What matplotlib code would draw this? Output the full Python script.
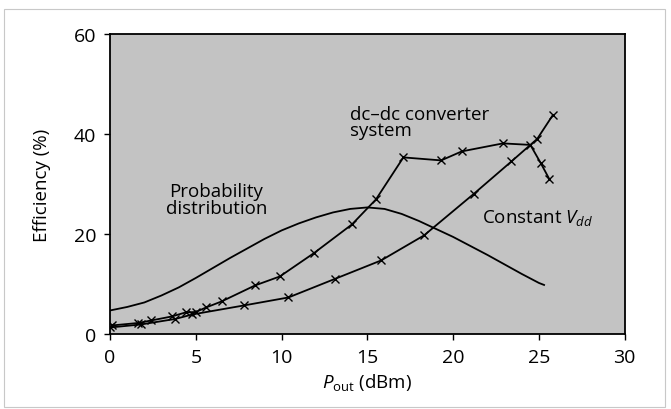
import matplotlib
matplotlib.use("Agg")
import matplotlib.pyplot as plt
from matplotlib.patches import Rectangle

plt.rcParams['font.family'] = ['Open Sans', 'DejaVu Sans']
plt.rcParams['mathtext.fontset'] = 'custom'
plt.rcParams['mathtext.rm'] = 'Open Sans'
plt.rcParams['mathtext.it'] = 'Open Sans:italic'

# Probability distribution (no markers)
prob_x = [0, 1, 2, 3, 4, 5, 6, 7, 8, 9, 10, 11, 12, 13, 14, 15, 16, 17, 18,
          19, 20, 21, 22, 23, 24, 25, 25.3]
prob_y = [4.7, 5.4, 6.3, 7.7, 9.3, 11.2, 13.2, 15.2, 17.1, 19.0, 20.7, 22.1,
          23.3, 24.3, 25.0, 25.3, 25.0, 24.0, 22.6, 21.0, 19.4, 17.6, 15.8,
          13.9, 12.0, 10.2, 9.8]

# dc-dc converter system (x markers)
dcdc_x = [0.1, 1.65, 2.4, 3.6, 4.4, 5.0, 5.6, 6.5, 8.45, 9.9, 11.9, 14.1, 15.5,
          17.1, 19.3, 20.5, 22.9, 24.5, 25.1, 25.6]
dcdc_y = [1.7, 2.2, 2.7, 3.5, 4.3, 4.4, 5.3, 6.5, 9.7, 11.5, 16.2, 21.9, 26.9,
          35.3, 34.7, 36.5, 38.1, 37.8, 34.2, 31.0]

# Constant Vdd (x markers)
vdd_x = [0, 1.8, 3.8, 4.8, 7.8, 10.4, 13.1, 15.8, 18.3, 21.2, 23.4, 24.9, 25.8]
vdd_y = [1.3, 1.9, 3.0, 3.9, 5.7, 7.3, 11.0, 14.7, 19.7, 28.0, 34.5, 39.0, 43.7]

x_ticks = [0, 5, 10, 15, 20, 25, 30]
y_ticks = [0, 20, 40, 60]

fig = plt.figure(figsize=(6.71, 4.10), dpi=100)
fig.patch.set_facecolor('white')
fig.patches.append(Rectangle((0.006, 0.005), 0.985, 0.97, transform=fig.transFigure,
                             fill=False, edgecolor='#c8c8c8', linewidth=0.8))

ax = fig.add_axes([0.164, 0.183, 0.767, 0.732])
ax.set_facecolor('#c3c3c3')

ax.plot(prob_x, prob_y, color='black', linewidth=1.3)
ax.plot(dcdc_x, dcdc_y, color='black', linewidth=1.3, marker='x',
        markersize=6, markeredgewidth=1.0)
ax.plot(vdd_x, vdd_y, color='black', linewidth=1.3, marker='x',
        markersize=6, markeredgewidth=1.0)

ax.set_xlim(0, 30)
ax.set_ylim(0, 60)
ax.set_xticks(x_ticks)
ax.set_yticks(y_ticks)
ax.tick_params(direction='out', length=4, width=1.0, labelsize=14, pad=6)

for s in ax.spines.values():
    s.set_linewidth(1.3)
    s.set_color('black')

ax.set_xlabel(r'$\mathit{P}_{\mathrm{out}}$ (dBm)', fontsize=13.5, labelpad=4)
ax.set_ylabel('Efficiency (%)', fontsize=13.5, labelpad=16)

ax.text(14.0, 45.8, 'dc\u2013dc converter\nsystem', fontsize=13.5,
        ha='left', va='top', linespacing=0.9)
ax.text(6.2, 30.4, 'Probability\ndistribution', fontsize=13.5,
        ha='center', va='top', linespacing=0.9)
ax.text(21.7, 23.4, r'Constant $\mathit{V}_{\mathit{dd}}$', fontsize=13.5,
        ha='left', va='center')

fig.savefig('out.png', dpi=100)
